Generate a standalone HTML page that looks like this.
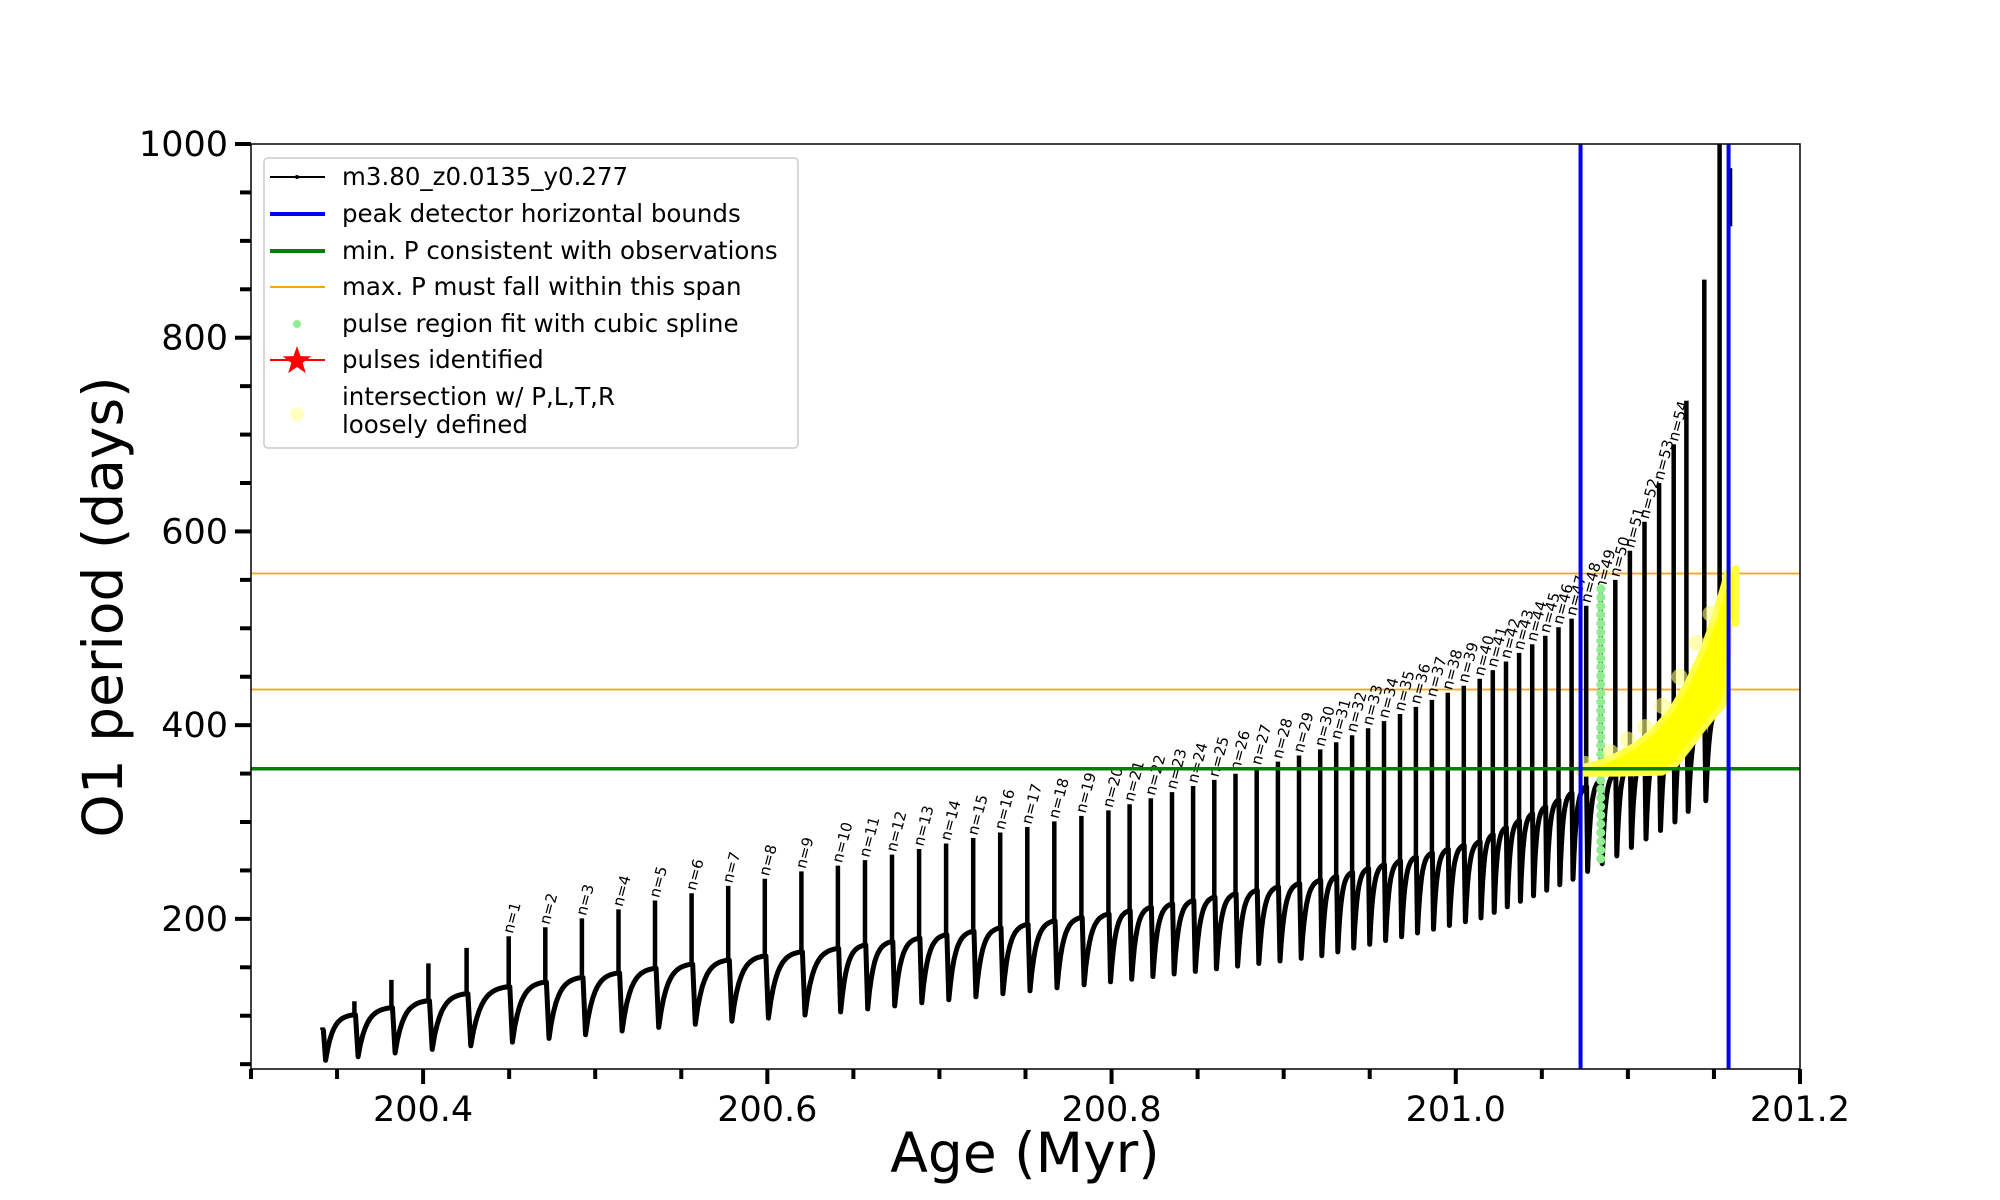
<!DOCTYPE html>
<html><head><meta charset="utf-8"><style>
html,body{margin:0;padding:0;background:#fff;}
svg{display:block;font-family:"DejaVu Sans","Liberation Sans",sans-serif;}
</style></head><body>
<svg id="s" width="2000" height="1200" viewBox="0 0 2000 1200" xmlns="http://www.w3.org/2000/svg">
<defs><clipPath id="c"><rect x="251" y="144" width="1549" height="925"/></clipPath></defs>
<rect x="0" y="0" width="2000" height="1200" fill="#fff"/>
<g id="plot" clip-path="url(#c)"></g>
<rect x="251" y="144" width="1549" height="925" fill="none" stroke="#000" stroke-width="1.5"/>
<g id="ticks"></g>
<text x="1025" y="1172" font-size="55" text-anchor="middle">Age (Myr)</text>
<text transform="translate(122,607) rotate(-90)" font-size="55" text-anchor="middle">O1 period (days)</text>
<g id="legend">
<rect x="264" y="158" width="534" height="290" rx="4" fill="#fff" fill-opacity="0.85" stroke="#ccc" stroke-width="1.5"/>
<line x1="270" y1="177" x2="325" y2="177" stroke="#000" stroke-width="2"/><circle cx="297" cy="177" r="2" fill="#000"/>
<text x="342" y="185" font-size="24.5">m3.80_z0.0135_y0.277</text>
<line x1="270" y1="214" x2="325" y2="214" stroke="#00f" stroke-width="4"/>
<text x="342" y="222" font-size="24.5">peak detector horizontal bounds</text>
<line x1="270" y1="251" x2="325" y2="251" stroke="#008000" stroke-width="4"/>
<text x="342" y="259" font-size="24.5">min. P consistent with observations</text>
<line x1="270" y1="287" x2="325" y2="287" stroke="#ffa500" stroke-width="2"/>
<text x="342" y="295" font-size="24.5">max. P must fall within this span</text>
<circle cx="297" cy="324" r="4" fill="#90ee90"/>
<text x="342" y="332" font-size="24.5">pulse region fit with cubic spline</text>
<line x1="270" y1="360" x2="325" y2="360" stroke="#f00" stroke-width="2"/>
<polygon id="star" fill="#f00"/>
<text x="342" y="368" font-size="24.5">pulses identified</text>
<circle cx="297" cy="414" r="7" fill="#ffffc0"/>
<text x="342" y="405" font-size="24.5">intersection w/ P,L,T,R</text>
<text x="342" y="433" font-size="24.5">loosely defined</text>
</g>
</svg>
<script>
(function(){
var NS="http://www.w3.org/2000/svg";
function X(t){return 251+(t-200.3)*1721.1;}
function Y(v){return 144+(1000-v)*0.96859;}
function el(p,tag,a,txt){var e=document.createElementNS(NS,tag);for(var k in a)e.setAttribute(k,a[k]);if(txt!==undefined)e.textContent=txt;p.appendChild(e);return e;}
function interp(an,n){var ks=Object.keys(an).map(Number).sort(function(a,b){return a-b});
 if(n<=ks[0])return an[ks[0]];if(n>=ks[ks.length-1])return an[ks[ks.length-1]];
 for(var i=0;i<ks.length-1;i++){if(n>=ks[i]&&n<=ks[i+1]){var f=(n-ks[i])/(ks[i+1]-ks[i]);return an[ks[i]]+f*(an[ks[i+1]]-an[ks[i]]);}}}
var sp=[];for(var i=0;i<10;i++){var r=i%2?6:15,a=-Math.PI/2+i*Math.PI/5;sp.push((297+r*Math.cos(a)).toFixed(1)+","+(361+r*Math.sin(a)).toFixed(1));}
document.getElementById("star").setAttribute("points",sp.join(" "));
var pos={"-4":253,"-3":278,"-2":307,"-1":336,"0":366,"1":399,"10":657,"20":869,"30":1035,"40":1160,"47":1232,"54":1312,"55":1322,"56":1336,"57":1348};
var top={"-4":88,"-3":115,"-2":137,"-1":154,"0":170,"1":182,"5":219,"9":249,"10":255,"20":312,"30":375,"40":448,"47":510,"50":550,"52":610,"54":690,"55":735,"56":860,"57":1010};
var dip={"-4":54,"0":69,"5":88,"10":104,"20":135,"30":162,"40":201,"47":241,"50":265,"54":300,"57":333};
var pl={"-4":85,"-3":101,"1":130,"5":149,"9":166,"11":173,"20":205,"30":240,"40":280,"47":330,"50":350,"57":420};
function T(n){return 200.3+(interp(pos,n)-197)/1348.9;}
var g=document.getElementById("plot");
el(g,"line",{x1:251,x2:1800,y1:Y(556.6),y2:Y(556.6),stroke:"#ffa500","stroke-width":1.8});
el(g,"line",{x1:251,x2:1800,y1:Y(436.8),y2:Y(436.8),stroke:"#ffa500","stroke-width":1.8});
var d="",ds="";
for(var n=-4;n<=57;n++){
 var t=T(n),P=interp(pl,n),Tp=interp(top,n),D=interp(dip,n);
 ds+="M"+X(t).toFixed(1)+","+Y(P).toFixed(1)+"L"+X(t).toFixed(1)+","+Y(Tp).toFixed(1);
 d+="M"+X(t).toFixed(1)+","+Y(P).toFixed(1);
 if(n==57)break;
 var t2=T(n+1),dt=t2-t,P2=interp(pl,n+1);
 d+="L"+X(t+0.03*dt).toFixed(1)+","+Y(P).toFixed(1)+"L"+X(t+0.1*dt).toFixed(1)+","+Y(D).toFixed(1);
 for(var j=1;j<=14;j++){var u=j/14,v=D+(P2-D)*(1-Math.exp(-4*u))/(1-Math.exp(-4));d+="L"+X(t+0.1*dt+0.9*dt*u).toFixed(1)+","+Y(v).toFixed(1);}
 if(n>=1&&n<=54){el(g,"text",{"font-size":15,transform:"translate("+(X(t)+4).toFixed(1)+","+(Y(Tp)-2).toFixed(1)+") rotate(-75)"},"n="+n);}
}
el(g,"path",{d:d,fill:"none",stroke:"#000","stroke-width":5,"stroke-linejoin":"round"});
el(g,"path",{d:ds,fill:"none",stroke:"#000","stroke-width":4.5});
el(g,"line",{x1:X(201.1598),x2:X(201.1598),y1:Y(975),y2:Y(915),stroke:"#000","stroke-width":3});
var gx=X(T(49));for(var v=262;v<=545;v+=9)el(g,"circle",{cx:gx,cy:Y(v),r:4.5,fill:"#90ee90"});
var tp=[[201.072,356],[201.085,362],[201.095,370],[201.105,380],[201.115,395],[201.125,415],[201.135,445],[201.143,475],[201.150,510],[201.155,540],[201.158,558],[201.163,562],[201.163,505],[201.159,505],[201.158,440],[201.155,420],[201.150,410],[201.143,395],[201.136,378],[201.128,360],[201.120,351],[201.095,350],[201.072,350]];
el(g,"polygon",{points:tp.map(function(p){return X(p[0]).toFixed(1)+","+Y(p[1]).toFixed(1)}).join(" "),fill:"#ffff00","stroke":"#ffff40","stroke-width":6,"stroke-linejoin":"round"});
var fz=[[201.075,360],[201.09,372],[201.1,385],[201.11,398],[201.12,420],[201.13,450],[201.14,485],[201.148,515]];
fz.forEach(function(p){el(g,"circle",{cx:X(p[0]),cy:Y(p[1]),r:8,fill:"#ffff80","fill-opacity":0.6});});
el(g,"line",{x1:251,x2:1800,y1:Y(355),y2:Y(355),stroke:"#008000","stroke-width":3.5});
[201.0725,201.1585].forEach(function(t){el(g,"line",{x1:X(t),x2:X(t),y1:144,y2:1069,stroke:"#00f","stroke-width":4});});
var tk=document.getElementById("ticks");
for(var v=50;v<=1000;v+=50){var maj=v%200==0;el(tk,"line",{x1:maj?235:240,x2:251,y1:Y(v),y2:Y(v),stroke:"#000","stroke-width":4});
 if(maj)el(tk,"text",{x:228,y:Y(v)+12,"font-size":35,"text-anchor":"end"},String(v));}
for(var i=0;i<=18;i++){var t=200.3+i*0.05,maj=(i%4==2);el(tk,"line",{x1:X(t),x2:X(t),y1:1069,y2:maj?1084:1079,stroke:"#000","stroke-width":4});
 if(maj)el(tk,"text",{x:X(t),y:1121,"font-size":35,"text-anchor":"middle"},t.toFixed(1));}
})();
</script>
</body></html>
